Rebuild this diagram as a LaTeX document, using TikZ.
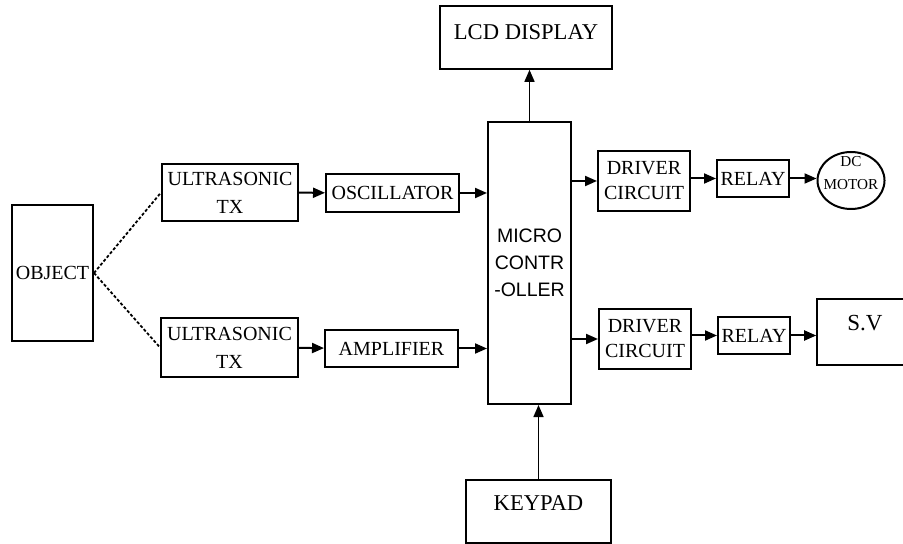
\documentclass[tikz,border=0pt]{standalone}
\usepackage{fontspec}
\setmainfont{Liberation Serif}
\setsansfont{Liberation Sans}
\usetikzlibrary{arrows.meta,shapes.geometric}
\tikzset{
    block/.style={
        draw, line width=1pt, inner sep=0pt, align=center,
        font=\fontsize{10}{13}\selectfont
    },
    big block/.style={
        block, line width=0.8pt,
        font=\fontsize{11.3}{13}\selectfont
    },
    link/.style={
        line width=1pt,
        -{Triangle[length=6pt,width=5pt]}
    },
    thin link/.style={
        link, line width=0.75pt
    },
    beam/.style={
        line width=0.9pt,
        dash pattern=on 1.5pt off 1pt
    }
}

\begin{document}
\begin{tikzpicture}[x=0.5pt,y=-0.5pt]
    \useasboundingbox (0,0) rectangle (903,544);
    % sensing side
    \node[block, minimum width=40.5pt, minimum height=68pt] (obj) at (52.5,273) {OBJECT};
    \node[block, minimum width=68pt, minimum height=28.5pt, font=\fontsize{10}{14}\selectfont] (ustx1) at (230,192.5) {ULTRASONIC\\TX};
    \node[block, minimum width=68.5pt, minimum height=29.5pt, font=\fontsize{10}{14}\selectfont] (ustx2) at (229.5,347.5) {ULTRASONIC\\TX};
    \node[block, minimum width=66.5pt, minimum height=19pt] (osc) at (392.5,193) {OSCILLATOR};
    \node[block, minimum width=66.5pt, minimum height=18.5pt] (amp) at (391.5,348.5) {AMPLIFIER};
    % controller
    \node[block, minimum width=41.5pt, minimum height=141pt, font=\sffamily\fontsize{9.75}{13.5}\selectfont] (mcu) at (529.5,263) {MICRO\\CONTR\\-OLLER};
    \node[big block, minimum width=86pt, minimum height=31.5pt, text depth=5.5pt] (lcd) at (526,37.5) {LCD DISPLAY};
    \node[big block, minimum width=72.5pt, minimum height=31.5pt, text depth=8.5pt] (key) at (538.5,511.5) {KEYPAD};
    % outputs
    \node[block, minimum width=46pt, minimum height=30pt, font=\fontsize{10}{12.5}\selectfont] (drv1) at (644,181) {DRIVER\\CIRCUIT};
    \node[block, minimum width=36pt, minimum height=18.5pt] (rly1) at (753,178.5) {RELAY};
    \node[draw, ellipse, line width=1pt, inner sep=0pt, minimum width=33.5pt, minimum height=28.5pt] (motor) at (851,180.5) {};
    \node[align=center, inner sep=0pt, font=\fontsize{7.6}{11.75}\selectfont] (motortext) at (851,173) {DC\\MOTOR};
    \node[block, minimum width=46pt, minimum height=30pt, font=\fontsize{10}{12.5}\selectfont] (drv2) at (645,339) {DRIVER\\CIRCUIT};
    \node[block, minimum width=36pt, minimum height=18.5pt] (rly2) at (754,335.5) {RELAY};
    \node[big block, minimum width=48pt, minimum height=33pt, text depth=9pt, font=\fontsize{11.5}{13}\selectfont] (sv) at (865,332) {S.V};

    \draw[beam] (obj.east) -- (ustx1.west);
    \draw[beam] (obj.east) -- (ustx2.west);
    \draw[link] (ustx1) -- (osc);
    \draw[link] (ustx2) -- (amp);
    \draw[link] (osc.east) -- (osc.east -| mcu.west);
    \draw[link] (amp.east) -- (amp.east -| mcu.west);
    \draw[thin link] (mcu.north) -- (mcu.north |- lcd.south);
    \draw[thin link] (key.north) -- (key.north |- mcu.south);
    \draw[link] (mcu.east |- drv1.west) -- (drv1.west);
    \draw[link] (mcu.east |- drv2.west) -- (drv2.west);
    \draw[link] (drv1.east |- rly1) -- (rly1.west);
    \draw[link] (drv2.east |- rly2) -- (rly2.west);
    \draw[link] (rly1.east) -- (rly1.east -| motor.west);
    \draw[link] (rly2.east) -- (rly2.east -| sv.west);
\end{tikzpicture}
\end{document}
